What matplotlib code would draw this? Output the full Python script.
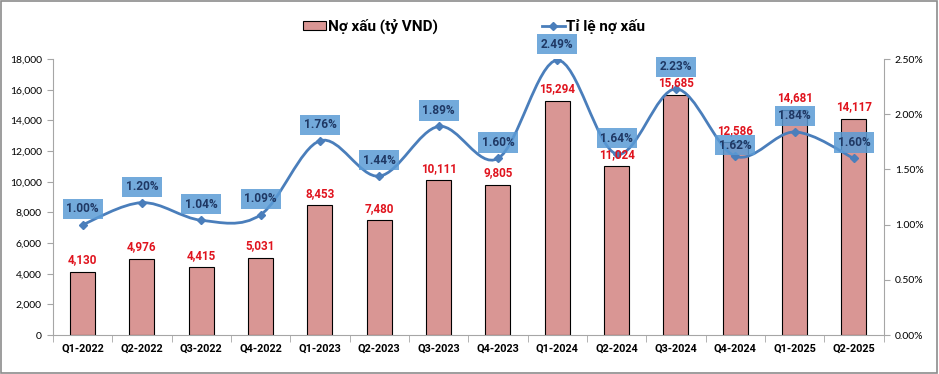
import numpy as np
import matplotlib
matplotlib.use("Agg")
import matplotlib.pyplot as plt
from matplotlib.path import Path
from matplotlib.patches import PathPatch, Rectangle
from matplotlib.lines import Line2D
from matplotlib.ticker import FuncFormatter, FixedLocator

plt.rcParams['font.family'] = ['Lato', 'Noto Sans', 'DejaVu Sans']
BOLD = ['Roboto', 'Noto Sans', 'DejaVu Sans']

# data
quarters = ["Q1-2022", "Q2-2022", "Q3-2022", "Q4-2022",
            "Q1-2023", "Q2-2023", "Q3-2023", "Q4-2023",
            "Q1-2024", "Q2-2024", "Q3-2024", "Q4-2024",
            "Q1-2025", "Q2-2025"]
bad_debt = [4130, 4976, 4415, 5031, 8453, 7480, 10111, 9805,
            15294, 11024, 15685, 12586, 14681, 14117]
npl_ratio = [1.00, 1.20, 1.04, 1.09, 1.76, 1.44, 1.89, 1.60,
             2.49, 1.64, 2.23, 1.62, 1.84, 1.60]

# label offsets above the line points (points), as placed in the original
pct_offsets = [11.5] * len(quarters)
pct_offsets[10] = 16
pct_offsets[11] = 8

bar_color = "#D99694"
line_color = "#4A7EBB"
box_color = "#5B9BD5"
pct_text = "#1F3864"
val_text = "#E0141E"
axis_grey = "#A6A6A6"

fig = plt.figure(figsize=(9.39, 3.74), dpi=100)
fig.patches.append(Rectangle((0.001, 0.002), 0.997, 0.995, transform=fig.transFigure,
                             fill=False, edgecolor="#8C8C8C", linewidth=1.2))

ax = fig.add_axes([0.0564, 0.104, 0.8846, 0.738])
ax2 = ax.twinx()

x = np.arange(len(quarters))
ax.bar(x, bad_debt, width=0.42, color=bar_color, edgecolor="black", linewidth=0.8, zorder=2)

ax.set_xlim(-0.5, len(quarters) - 0.5)
ax.set_ylim(0, 18000)
ax.set_yticks(np.arange(0, 18001, 2000))
ax.yaxis.set_major_formatter(FuncFormatter(lambda v, p: f"{int(v):,}"))
ax2.set_ylim(0, 2.5)
ax2.set_yticks(np.arange(0, 2.51, 0.5))
ax2.yaxis.set_major_formatter(FuncFormatter(lambda v, p: f"{v:.2f}%"))

ax.set_xticks(x)
ax.set_xticklabels(quarters, fontsize=7.8, fontweight="bold", family=BOLD)
ax.xaxis.set_minor_locator(FixedLocator(np.arange(-0.5, len(quarters), 1.0)))
ax.tick_params(axis="x", which="major", length=0, pad=6)
ax.tick_params(axis="x", which="minor", length=5, color=axis_grey)
ax.tick_params(axis="y", labelsize=7.5, length=4, color=axis_grey, pad=4)
ax2.tick_params(axis="y", labelsize=7.5, length=4, color=axis_grey, pad=4)

for a in (ax, ax2):
    a.spines["top"].set_visible(False)
    for s in ("left", "right", "bottom"):
        a.spines[s].set_color(axis_grey)
ax.spines["right"].set_visible(False)
ax2.spines["left"].set_visible(False)
ax2.spines["bottom"].set_visible(False)

# smoothed line (Excel-like Bezier through the points)
pts = np.column_stack([x, npl_ratio]).astype(float)
verts = [pts[0]]
codes = [Path.MOVETO]
n = len(pts)
for i in range(n - 1):
    p0 = pts[i - 1] if i > 0 else pts[i]
    p1 = pts[i]
    p2 = pts[i + 1]
    p3 = pts[i + 2] if i + 2 < n else pts[i + 1]
    c1 = p1 + (p2 - p0) / 6.0
    c2 = p2 - (p3 - p1) / 6.0
    verts += [c1, c2, p2]
    codes += [Path.CURVE4] * 3
ax2.add_patch(PathPatch(Path(verts, codes), facecolor="none", edgecolor=line_color,
                        linewidth=2, zorder=3))
ax2.plot(x, npl_ratio, linestyle="none", marker="D", markersize=4.5,
         color=line_color, zorder=4)

ax.set_zorder(1)
ax2.set_zorder(2)
ax.patch.set_visible(False)

for xi, v in zip(x, bad_debt):
    ax2.annotate(f"{v:,}", xy=(xi, v / 18000 * 2.5), xytext=(0, 8.6),
                 textcoords="offset points", ha="center", va="center",
                 fontsize=8.4, fontweight="bold", family=BOLD, color=val_text, zorder=5)

for xi, r, off in zip(x, npl_ratio, pct_offsets):
    ax2.annotate(f"{r:.2f}%", xy=(xi, r), xytext=(0, off),
                 textcoords="offset points", ha="center", va="center",
                 fontsize=8.6, fontweight="bold", family=BOLD, color=pct_text, zorder=6,
                 bbox=dict(boxstyle="square,pad=0.3", facecolor=box_color,
                           edgecolor="none", alpha=0.85))

handles = [Rectangle((0, 0), 1, 1, facecolor=bar_color, edgecolor="black", linewidth=0.8),
           Line2D([0], [0], color=line_color, linewidth=2, marker="D", markersize=4.5)]
fig.legend(handles, ["Nợ xấu (tỷ VND)", "Tỉ lệ nợ xấu"], loc="center",
           bbox_to_anchor=(0.505, 0.93), ncol=2, frameon=False,
           prop={"size": 11, "weight": "bold", "family": BOLD}, handlelength=1.5,
           handleheight=0.55, handletextpad=0.12, columnspacing=6.8)

plt.savefig("out.png", dpi=100)
